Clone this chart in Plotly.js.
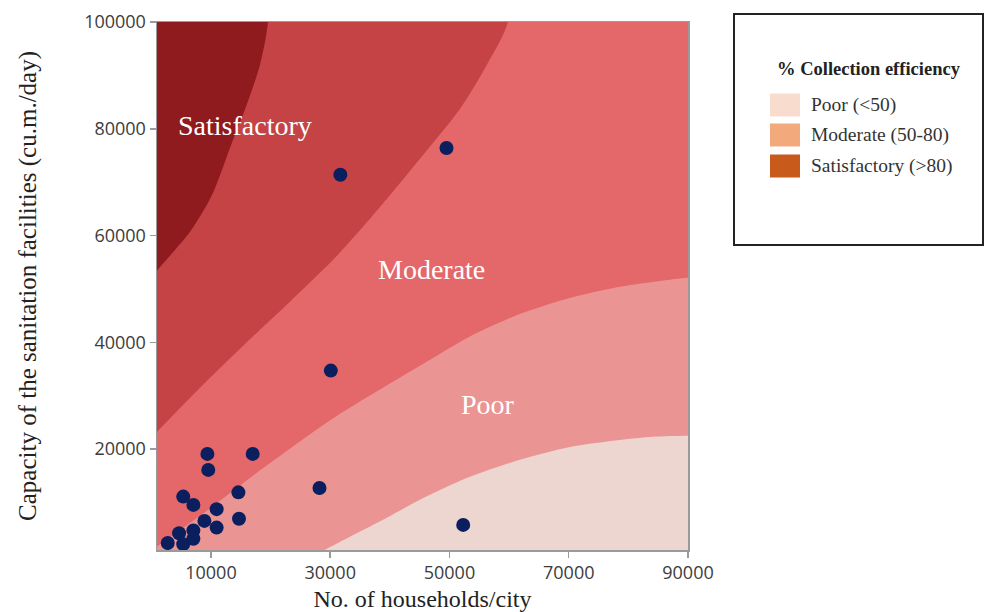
<!DOCTYPE html>
<html>
<head>
<meta charset="utf-8">
<script src="https://cdn.plot.ly/plotly-3.0.1.min.js"></script>
<style>html,body{margin:0;padding:0;background:#fff;}#chart{width:986px;height:612px;}</style>
</head>
<body>
<div id="chart"></div>
<script>
// Observed cities
const households = [49500, 31700, 30100, 28200, 52300, 9400, 17000, 9550, 5350, 7050, 14600, 10950, 8900, 14700, 10950, 4650, 7050, 7050, 2750, 5350];
const capacity   = [76400, 71400, 34700, 12700, 5800, 19100, 19100, 16100, 11100, 9550, 11900, 8750, 6550, 6950, 5300, 4250, 4750, 3200, 2400, 2200];

// Band boundaries (x = households, y = capacity)
const b1x = [900, 3970, 6490, 10170, 13190, 15990, 18220, 19560];
const b1y = [53400, 57300, 60700, 67600, 76400, 84500, 92000, 100000];
const b2x = [900, 8160, 15710, 23250, 31120, 38840, 45880, 51740, 56270, 59790];
const b2y = [23200, 31500, 39700, 47600, 56200, 66000, 75500, 83700, 92000, 100000];
const b3x = [900, 8160, 16540, 24920, 31630, 38840, 45040, 53420, 61800, 70180, 78560, 84090, 90000];
const b3y = [1700, 7500, 14600, 21400, 26600, 31500, 35600, 41100, 45300, 48300, 50400, 51300, 52100];
const b4x = [27500, 29450, 33300, 38840, 45040, 53420, 61800, 70180, 78560, 84090, 90000];
const b4y = [100, 1320, 3560, 6750, 10500, 14800, 18000, 20400, 21700, 22300, 22500];

// Band labels
const bandLabels = ["Satisfactory", "Moderate", "Poor"];
const bandLabelX = [15700, 47000, 56500];
const bandLabelY = [80600, 53600, 28300];

// Legend
const legendTitle = "% Collection efficiency";
const legendItems = ["Poor (<50)", "Moderate (50-80)", "Satisfactory (>80)"];
const legendColors = ["#f8dccd", "#f2a97c", "#c85a1c"];

// Axis ticks
const xTicks = [10000, 30000, 50000, 70000, 90000];
const yTicks = [20000, 40000, 60000, 80000, 100000];

const xRange = [950, 90000];
const yRange = [1100, 100000];
const bandColors = ["#8f1b1e", "#c54344", "#e4676a", "#ea9593", "#edd5d0"];

const XL = -5000, XR = 100000, YB = -5000, YT = 110000;

function band(bx, by, closeX, closeY, color) {
  return {
    type: "scatter", mode: "lines", fill: "toself", fillcolor: color,
    line: {width: 0, color: color, shape: "spline", smoothing: 0.8},
    x: bx.concat(closeX), y: by.concat(closeY),
    hoverinfo: "skip", showlegend: false
  };
}

const traces = [
  band(b4x, b4y, [XR, XR, XL, XL, b4x[0]], [b4y[b4y.length-1], YT, YT, YB, YB], bandColors[3]),
  band(b3x, b3y, [XR, XR, XL, XL], [b3y[b3y.length-1], YT, YT, b3y[0]], bandColors[2]),
  band(b2x, b2y, [b2x[b2x.length-1], XL, XL], [YT, YT, b2y[0]], bandColors[1]),
  band(b1x, b1y, [b1x[b1x.length-1], XL, XL], [YT, YT, b1y[0]], bandColors[0]),
  {
    type: "scatter", mode: "markers", x: households, y: capacity,
    marker: {size: 14, color: "#0b1f5e"}, showlegend: false, hoverinfo: "x+y"
  }
];

const annotations = bandLabels.map((t, i) => ({
  x: bandLabelX[i], y: bandLabelY[i], xref: "x", yref: "y", text: t, showarrow: false,
  font: {family: "Liberation Serif, Times New Roman, serif", size: 28, color: "#ffffff"}
}));

// legend (drawn in paper coords)
const px = v => (v - 157) / (688 - 157);
const py = v => 1 - (v - 22) / (550 - 22);
const shapes = [{
  type: "rect", xref: "paper", yref: "paper",
  x0: px(734), x1: px(983), y0: py(245), y1: py(14),
  line: {color: "#222", width: 2}, fillcolor: "rgba(0,0,0,0)"
}];
annotations.push({
  xref: "paper", yref: "paper", x: px(869), y: py(69), text: "<b>" + legendTitle + "</b>",
  showarrow: false, xanchor: "center", yanchor: "middle",
  font: {family: "Liberation Serif, Times New Roman, serif", size: 18.5, color: "#222"}
});
const itemY = [105, 135, 166];
legendItems.forEach((t, i) => {
  shapes.push({
    type: "rect", xref: "paper", yref: "paper",
    x0: px(770), x1: px(800), y0: py(itemY[i] + 11.5), y1: py(itemY[i] - 11.5),
    line: {width: 0}, fillcolor: legendColors[i]
  });
  annotations.push({
    xref: "paper", yref: "paper", x: px(809), y: py(itemY[i]), text: t,
    showarrow: false, xanchor: "left", yanchor: "middle",
    font: {family: "Liberation Serif, Times New Roman, serif", size: 19.5, color: "#333"}
  });
});

const axisCommon = {
  showgrid: false, zeroline: false, showline: true, mirror: true,
  linecolor: "#9a9a9a", linewidth: 1.5, ticks: "outside", ticklen: 6,
  tickcolor: "#9a9a9a", tickwidth: 1.5,
  tickfont: {family: "Open Sans, sans-serif", size: 18, color: "#3c3c3c"}
};

const layout = {
  width: 986, height: 612,
  margin: {l: 157, r: 298, t: 22, b: 62},
  paper_bgcolor: "#ffffff", plot_bgcolor: bandColors[4],
  xaxis: Object.assign({}, axisCommon, {
    range: xRange, tickvals: xTicks, ticktext: xTicks.map(String),
    title: {text: "No. of households/city", standoff: 8,
      font: {family: "Liberation Serif, Times New Roman, serif", size: 24, color: "#222"}}
  }),
  yaxis: Object.assign({}, axisCommon, {
    range: yRange, tickvals: yTicks, ticktext: yTicks.map(String),
    title: {text: "Capacity of the sanitation facilities (cu.m./day)", standoff: 40,
      font: {family: "Liberation Serif, Times New Roman, serif", size: 25, color: "#222"}}
  }),
  shapes: shapes, annotations: annotations, showlegend: false
};

Plotly.newPlot("chart", traces, layout, {displayModeBar: false, staticPlot: true});
</script>
</body>
</html>
